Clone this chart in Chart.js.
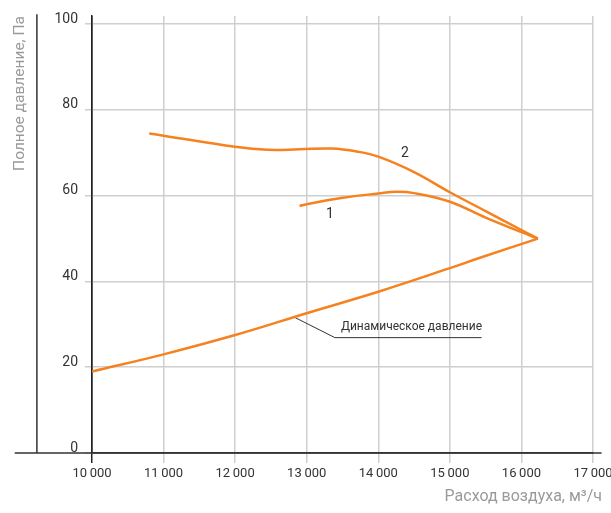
<!DOCTYPE html>
<html lang="ru">
<head>
  <meta charset="UTF-8">
  <title>Полное давление</title>
  <script src="https://cdn.jsdelivr.net/npm/chart.js"></script>
  <style>
    body { margin: 0; background: #fff; }
    .wrap { position: relative; width: 611px; height: 513px; }
  </style>
</head>
<body>
<div class="wrap">
  <canvas id="fanChart"></canvas>
</div>

<script>
  // ticks
  const xTicks = [10000, 11000, 12000, 13000, 14000, 15000, 16000, 17000];
  const yTicks = [0, 20, 40, 60, 80, 100];

  // curve 2 (upper)
  const curve2X = [10800, 11000, 12000, 12450, 12900, 13350, 13700, 14000, 14500, 15000, 15500, 16000, 16230];
  const curve2Y = [74.5, 74.0, 71.4, 70.7, 70.8, 71.0, 70.3, 69.1, 65.5, 60.8, 56.4, 52.0, 50.0];

  // curve 1 (lower)
  const curve1X = [12900, 13000, 13500, 14000, 14250, 14500, 15000, 15500, 16000, 16230];
  const curve1Y = [57.6, 58.0, 59.5, 60.5, 60.9, 60.6, 58.6, 54.9, 51.5, 50.0];

  // dynamic pressure
  const dynX = [10000, 11000, 12000, 13000, 14000, 15000, 15400, 16230];
  const dynY = [19.0, 23.0, 27.5, 32.6, 37.6, 43.1, 45.4, 50.0];

  // leader line for the "Динамическое давление" label
  const leaderX = [12835, 13394, 15443];
  const leaderY = [31.6, 26.9, 26.9];

  const curveLabels = [
    { text: '1', x: 13324, y: 55.6 },
    { text: '2', x: 14372, y: 69.9 },
  ];
  const dynLabel = { text: 'Динамическое давление', x: 13478, y: 28.6 };
  const xTitle = 'Расход воздуха, м³/ч';
  const yTitle = 'Полное давление, Па';

  const orange = '#f5821f';
  const tickFont = 'Roboto, sans-serif';

  function pts(xs, ys) {
    return xs.map(function (x, i) { return { x: x, y: ys[i] }; });
  }

  // extra axis lines and text labels
  const extras = {
    id: 'extras',
    beforeDatasetsDraw(chart) {
      const ctx = chart.ctx;
      const xs = chart.scales.x, ys = chart.scales.y;
      const y0 = ys.getPixelForValue(0);
      ctx.save();
      ctx.strokeStyle = '#333';
      ctx.lineWidth = 1.5;
      ctx.beginPath();
      ctx.moveTo(xs.getPixelForValue(8920), y0);
      ctx.lineTo(xs.getPixelForValue(17120), y0);
      const lx = xs.getPixelForValue(9230);
      ctx.moveTo(lx, ys.getPixelForValue(102.3));
      ctx.lineTo(lx, y0);
      ctx.stroke();
      ctx.restore();
    },
    afterDatasetsDraw(chart) {
      const ctx = chart.ctx;
      const xs = chart.scales.x, ys = chart.scales.y;
      ctx.save();
      ctx.fillStyle = '#333';
      ctx.font = '14px ' + tickFont;
      ctx.textAlign = 'center';
      ctx.textBaseline = 'middle';
      curveLabels.forEach(function (l) {
        ctx.fillText(l.text, xs.getPixelForValue(l.x), ys.getPixelForValue(l.y));
      });
      ctx.font = '12px ' + tickFont;
      ctx.textAlign = 'left';
      ctx.textBaseline = 'alphabetic';
      ctx.fillText(dynLabel.text, xs.getPixelForValue(dynLabel.x), ys.getPixelForValue(dynLabel.y));
      // x axis title, right aligned past the last tick
      ctx.fillStyle = '#9a9a9a';
      ctx.font = '16px Roboto, sans-serif';
      ctx.textAlign = 'right';
      ctx.textBaseline = 'middle';
      ctx.fillText(xTitle, xs.getPixelForValue(17126), chart.height - 16);
      ctx.restore();
    }
  };

  const config = {
    type: 'scatter',
    data: {
      datasets: [
        { label: '2', data: pts(curve2X, curve2Y), showLine: true, borderColor: orange, borderWidth: 2.5,
          pointRadius: 0, tension: 0.4 },
        { label: '1', data: pts(curve1X, curve1Y), showLine: true, borderColor: orange, borderWidth: 2.5,
          pointRadius: 0, tension: 0.4 },
        { label: 'Динамическое давление', data: pts(dynX, dynY), showLine: true, borderColor: orange, borderWidth: 2.5,
          pointRadius: 0, tension: 0.4 },
        { label: 'leader', data: pts(leaderX, leaderY), showLine: true, borderColor: '#333', borderWidth: 1,
          pointRadius: 0, tension: 0 }
      ]
    },
    options: {
      responsive: true,
      maintainAspectRatio: false,
      animation: false,
      layout: { padding: { top: 16, right: 18, left: 0, bottom: 0 } },
      plugins: { legend: { display: false }, tooltip: { enabled: false } },
      scales: {
        x: {
          type: 'linear',
          min: 10000,
          max: 17000,
          afterBuildTicks: function (s) { s.ticks = xTicks.map(function (v) { return { value: v }; }); },
          afterFit: function (s) { s.height = 60; s.paddingLeft = 0; s.paddingRight = 0; },
          grid: {
            color: function (c) { return c.tick && c.tick.value === 10000 ? '#222' : '#cfcfcf'; },
            lineWidth: 1.5,
            tickLength: 10
          },
          border: { display: true, color: '#333', width: 1.5 },
          ticks: {
            padding: 3,
            color: '#333',
            font: { family: tickFont, size: 13 },
            maxRotation: 0,
            autoSkip: false,
            callback: function (v) { return v.toLocaleString('ru-RU').replace(/\s/g, '\u2009'); }
          }
        },
        y: {
          type: 'linear',
          min: 0,
          max: 101.9,
          afterBuildTicks: function (s) { s.ticks = yTicks.map(function (v) { return { value: v }; }); },
          afterFit: function (s) { s.width = 92; },
          grid: { color: '#cfcfcf', lineWidth: 1.5, tickLength: 7 },
          border: { display: true, color: '#222', width: 1.5 },
          ticks: {
            padding: 7,
            labelOffset: -5,
            color: '#333',
            font: { family: tickFont, size: 14 }
          },
          title: {
            display: true,
            text: yTitle,
            align: 'end',
            color: '#9a9a9a',
            font: { family: 'Roboto, sans-serif', size: 15.5 },
            padding: { top: 11, bottom: 0 }
          }
        }
      }
    },
    plugins: [extras]
  };

  new Chart(document.getElementById('fanChart'), config);
</script>
</body>
</html>
